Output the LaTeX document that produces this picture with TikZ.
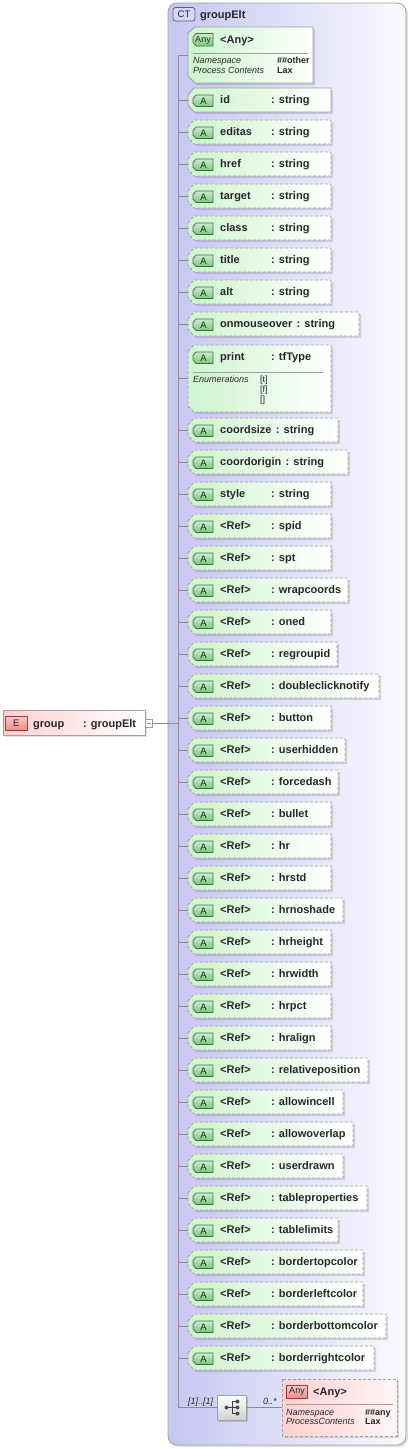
\documentclass[tikz,border=0pt]{standalone}
\usepackage{fontspec}
\setmainfont{Liberation Sans}
\usetikzlibrary{calc}
\definecolor{lav}{RGB}{198,198,242}
\definecolor{lavR}{RGB}{250,250,255}
\definecolor{boxgray}{RGB}{160,160,160}
\definecolor{treegray}{RGB}{140,140,150}
\definecolor{attrL}{RGB}{206,244,206}
\definecolor{badgeT}{RGB}{200,238,200}
\definecolor{badgeB}{RGB}{120,200,120}
\definecolor{badgeD}{RGB}{70,110,70}
\definecolor{pinkL}{RGB}{255,208,208}
\definecolor{pinkR}{RGB}{255,246,246}
\definecolor{pbadgeT}{RGB}{250,200,200}
\definecolor{pbadgeB}{RGB}{236,140,140}
\definecolor{pbadgeD}{RGB}{160,60,60}
\definecolor{ctbadge}{RGB}{215,215,245}
\definecolor{ctD}{RGB}{90,90,150}
\definecolor{txt}{RGB}{40,40,40}
\begin{document}
\begin{tikzpicture}[x=1pt,y=-1pt,
  nm/.style={font=\bfseries\fontsize{11}{13}\selectfont, inner sep=0pt, anchor=base west, text=txt},
  sm/.style={font=\itshape\fontsize{9}{10}\selectfont, inner sep=0pt, anchor=base west, text=txt},
  smr/.style={font=\fontsize{9}{10}\selectfont, inner sep=0pt, anchor=base west, text=txt},
  smb/.style={font=\bfseries\fontsize{9}{10}\selectfont, inner sep=0pt, anchor=base west, text=txt},
  bdg/.style={font=\fontsize{9.5}{10}\selectfont, inner sep=0pt, text=txt},
  attrbox/.style={left color=attrL, right color=white, draw=boxgray, line width=0.8pt},
  pinkbox/.style={left color=pinkL, right color=pinkR, draw=boxgray, line width=0.8pt},
  dashedline/.style={dash pattern=on 3pt off 2pt},
  shadowfill/.style={fill=black, fill opacity=0.13},
  gbadge/.style={top color=badgeT, bottom color=badgeB, draw=badgeD, line width=0.7pt},
  pbadge/.style={top color=pbadgeT, bottom color=pbadgeB, draw=pbadgeD, line width=0.7pt},
  tree/.style={draw=treegray, line width=0.7pt},
]
\useasboundingbox (0,0) rectangle (410,1449);
\fill[white] (0,0) rectangle (410,1449);

% container
\fill[black, fill opacity=0.12, rounded corners=9pt] (170,5) rectangle (408,1447);
\draw[draw=boxgray, line width=0.8pt, rounded corners=9pt, left color=lav, right color=lavR] (168,3) rectangle (406,1445);
\draw[draw=ctD, fill=ctbadge, line width=0.7pt, rounded corners=2.5pt] (173,7.5) rectangle (195,21);
\node[bdg] (ctb) at (184,14.5) {CT};
\node[nm] (ctname) at (200,18.5) {groupElt};

% trunk
\coordinate (trtop) at (178,55);
\coordinate (trbot) at (178,1407);
\draw[tree] (trtop) -- (trbot);

% top any box
\fill[shadowfill] (190,35) -- (197,29) -- (315,29) -- (315,85) -- (197,85) -- (190,78) -- cycle;
\path[attrbox] (188,33) -- (195,27) -- (313,27) -- (313,83) -- (195,83) -- (188,76) -- cycle;
\path[gbadge] (193,37) -- (196,33.5) -- (213,33.5) -- (213,46) -- (196,46) -- (193,42.5) -- cycle;
\node[bdg, font=\fontsize{9}{10}\selectfont] (anyb) at (203,40) {Any};
\node[nm] (anyn) at (220,43) {<Any>};
\draw[boxgray, line width=0.7pt] (193,53) -- (308,53);
\node[sm] (ns1) at (193,63.5) {Namespace};
\node[sm] (pc1) at (193,73.5) {Process Contents};
\node[smb] (nsv1) at (277,63.5) {\#\#other};
\node[smb] (pcv1) at (277,73.5) {Lax};
\coordinate (k0) at (178,55);
\coordinate (b0) at (188,55);
\draw[tree] (k0) -- (b0);

% attribute rows
\foreach \i/\ya/\ra/\na/\ta/\sa in {
1/100/331/id/string/solid,
2/132/331/editas/string/dashedline,
3/164/331/href/string/dashedline,
4/196/331/target/string/dashedline,
5/228/331/class/string/dashedline,
6/260/331/title/string/dashedline,
7/292/331/alt/string/dashedline,
8/324/359/onmouseover/string/dashedline,
10/430/338/coordsize/string/dashedline,
11/462/348/coordorigin/string/dashedline,
12/494/331/style/string/dashedline,
13/526/331/<Ref>/spid/dashedline,
14/558/331/<Ref>/spt/dashedline,
15/590/348/<Ref>/wrapcoords/dashedline,
16/622/331/<Ref>/oned/dashedline,
17/654/337/<Ref>/regroupid/dashedline,
18/686/379/<Ref>/doubleclicknotify/dashedline,
19/718/331/<Ref>/button/dashedline,
20/750/345/<Ref>/userhidden/dashedline,
21/782/338/<Ref>/forcedash/dashedline,
22/814/331/<Ref>/bullet/dashedline,
23/846/331/<Ref>/hr/dashedline,
24/878/331/<Ref>/hrstd/dashedline,
25/910/343/<Ref>/hrnoshade/dashedline,
26/942/331/<Ref>/hrheight/dashedline,
27/974/331/<Ref>/hrwidth/dashedline,
28/1006/331/<Ref>/hrpct/dashedline,
29/1038/331/<Ref>/hralign/dashedline,
30/1070/368/<Ref>/relativeposition/dashedline,
31/1102/343/<Ref>/allowincell/dashedline,
32/1134/353/<Ref>/allowoverlap/dashedline,
33/1166/343/<Ref>/userdrawn/dashedline,
34/1198/367/<Ref>/tableproperties/dashedline,
35/1230/338/<Ref>/tablelimits/dashedline,
36/1262/363/<Ref>/bordertopcolor/dashedline,
37/1294/363/<Ref>/borderleftcolor/dashedline,
38/1326/386/<Ref>/borderbottomcolor/dashedline,
39/1358/374/<Ref>/borderrightcolor/dashedline}{
  \fill[shadowfill] (190,\ya-3) -- (196,\ya-10) -- (\ra+2,\ya-10) -- (\ra+2,\ya+14) -- (196,\ya+14) -- (190,\ya+7) -- cycle;
  \path[attrbox,\sa] (188,\ya-5) -- (194,\ya-12) -- (\ra,\ya-12) -- (\ra,\ya+12) -- (194,\ya+12) -- (188,\ya+5) -- cycle;
  \path[gbadge] (193,\ya-1.5) -- (196,\ya-5) -- (213,\ya-5) -- (213,\ya+6.5) -- (196,\ya+6.5) -- (193,\ya+3) -- cycle;
  \node[bdg] (a\i) at (203.5,\ya+0.8) {A};
  \node[nm] (n\i) at (220,\ya+3.5) {\na};
  \pgfmathsetmacro{\yb}{\ya+3.5}
  \path let \p1=(n\i.base east) in node[nm] (t\i) at ({max(271,\x1+4)},\yb) {: \ta};
  \coordinate (k\i) at (178,\ya);
  \coordinate (b\i) at (188,\ya);
  \draw[tree] (k\i) -- (b\i);
}

% print box
\fill[shadowfill] (190,353) -- (196,347) -- (333,347) -- (333,414) -- (196,414) -- (190,408) -- cycle;
\path[attrbox,dashedline] (188,351) -- (194,345) -- (331,345) -- (331,412) -- (194,412) -- (188,406) -- cycle;
\path[gbadge] (193,355.5) -- (196,352) -- (213,352) -- (213,363.5) -- (196,363.5) -- (193,360) -- cycle;
\node[bdg] (a9) at (203.5,357.8) {A};
\node[nm] (n9) at (220,360.5) {print};
\node[nm] (t9) at (271,360.5) {: tfType};
\draw[boxgray, line width=0.7pt] (193,372) -- (323,372);
\node[sm] (en9) at (193,382) {Enumerations};
\node[smr] (e1) at (260,382) {[t]};
\node[smr] (e2) at (260,392) {[f]};
\node[smr] (e3) at (260,402) {[]};
\coordinate (k9) at (178,378);
\coordinate (b9) at (188,378);
\draw[tree] (k9) -- (b9);

% element group
\fill[black, fill opacity=0.12] (5,712) rectangle (147,737);
\draw[draw=boxgray, line width=0.8pt, left color=pinkL, right color=white] (3,710) rectangle (145,735);
\draw[pbadge] (5.5,716.5) rectangle (27,730);
\node[bdg] (eb) at (16.2,723.5) {E};
\node[nm] (gname) at (33,727) {group};
\node[nm] (gtype) at (83,727) {: groupElt};
\draw[draw=boxgray, fill=white, line width=0.7pt] (145.5,719) rectangle (152.5,727);
\coordinate (mn1) at (147,723);
\coordinate (mn2) at (151,723);
\draw[treegray, line width=0.6pt] (mn1) -- (mn2);
\coordinate (ge) at (152.5,723);
\coordinate (gk) at (178,723);
\draw[tree] (ge) -- (gk);

% sequence compositor
\coordinate (sq0) at (178,1407);
\coordinate (sqL) at (217,1407);
\coordinate (sqR) at (246,1407);
\coordinate (anyL) at (282,1407);
\draw[tree] (sq0) -- (sqL);
\draw[tree] (sqR) -- (anyL);
\fill[black, fill opacity=0.15] (219,1397) rectangle (248,1422);
\draw[draw=boxgray, line width=0.7pt, top color=white, bottom color=black!18] (217,1395) rectangle (246,1420);
\coordinate (ic0) at (226.5,1407.5);
\coordinate (ic1) at (232,1407.5);
\coordinate (ic2) at (237.5,1401.5);
\coordinate (ic3) at (237.5,1407.5);
\coordinate (ic4) at (237.5,1413.5);
\draw[black!75, line width=0.8pt] (ic0) -- (ic1) (232,1401.5) -- (232,1413.5) (232,1401.5) -- (ic2) (ic1) -- (ic3) (232,1413.5) -- (ic4);
\foreach \c in {ic0,ic2,ic3,ic4}{\fill[black!70] (\c) circle (2pt);}
\node[sm] (m1) at (188,1404) {[1]..[1]};
\node[sm] (m2) at (263,1404) {0..*};

% bottom any
\fill[shadowfill] (284,1381) rectangle (399,1438);
\path[pinkbox,dashedline] (282,1379) rectangle (397,1436);
\draw[pbadge] (286.5,1385) rectangle (307.5,1398);
\node[bdg, font=\fontsize{9}{10}\selectfont] (anyb2) at (297,1391.5) {Any};
\node[nm] (anyn2) at (313,1395) {<Any>};
\draw[boxgray, line width=0.7pt] (286,1404) -- (393,1404);
\node[sm] (ns2) at (286,1415) {Namespace};
\node[sm] (pc2) at (286,1424.5) {ProcessContents};
\node[smb] (nsv2) at (365,1415) {\#\#any};
\node[smb] (pcv2) at (365,1424.5) {Lax};
\end{tikzpicture}
\end{document}
